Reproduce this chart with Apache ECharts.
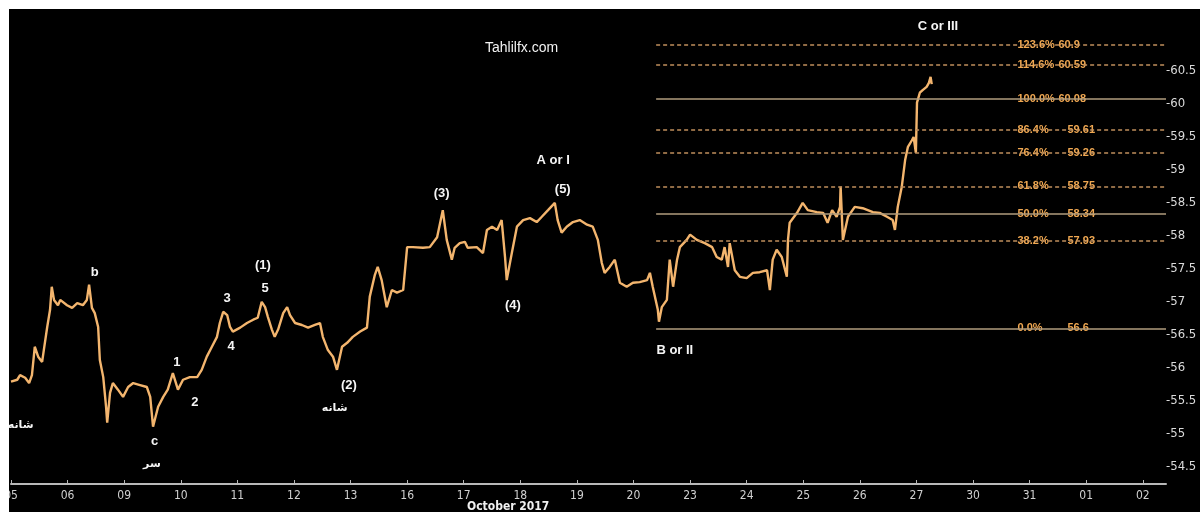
<!DOCTYPE html>
<html>
<head>
<meta charset="utf-8">
<script src="https://cdn.jsdelivr.net/npm/echarts@6/dist/echarts.min.js"></script>
<style>
html,body{margin:0;padding:0;background:#fff;width:1200px;height:512px;overflow:hidden;}
#c{position:absolute;left:9px;top:9px;width:1191px;height:503px;background:#000;}
</style>
</head>
<body>
<div id="c"></div>
<script>
// ---- data ----
const dayLabels = ['05','06','09','10','11','12','13','16','17','18','19','20','23','24','25','26','27','30','31','01','02'];
const dayIndex = [0,1,2,3,4,5,6,7,8,9,10,11,12,13,14,15,16,17,18,19,20];
const yTicks = [54.5,55,55.5,56,56.5,57,57.5,58,58.5,59,59.5,60,60.5];

// time in trading days from 05 Oct (fractional), price
const priceT = [0.00,0.11,0.16,0.25,0.32,0.37,0.42,0.48,0.55,0.58,0.64,0.69,0.72,0.76,0.83,0.87,0.99,1.08,1.17,1.27,1.34,1.38,1.43,1.48,1.54,1.57,1.63,1.68,1.70,1.75,1.80,1.89,1.98,2.07,2.16,2.28,2.40,2.46,2.51,2.54,2.60,2.69,2.77,2.86,2.95,3.04,3.16,3.29,3.37,3.46,3.55,3.64,3.69,3.75,3.82,3.87,3.92,4.05,4.17,4.28,4.36,4.43,4.49,4.54,4.61,4.66,4.72,4.81,4.88,4.93,5.02,5.14,5.25,5.37,5.46,5.51,5.60,5.69,5.76,5.85,5.94,6.04,6.17,6.29,6.34,6.43,6.48,6.55,6.64,6.73,6.82,6.93,7.00,7.10,7.28,7.40,7.53,7.63,7.70,7.79,7.84,7.93,8.02,8.07,8.23,8.34,8.41,8.50,8.59,8.67,8.73,8.76,8.85,8.94,9.05,9.17,9.29,9.38,9.49,9.61,9.66,9.73,9.82,9.93,10.05,10.18,10.28,10.37,10.44,10.49,10.58,10.67,10.76,10.88,10.99,11.11,11.24,11.29,11.34,11.43,11.45,11.50,11.59,11.64,11.70,11.77,11.82,11.94,12.00,12.12,12.26,12.39,12.47,12.56,12.61,12.67,12.70,12.79,12.88,13.00,13.11,13.23,13.36,13.41,13.46,13.53,13.62,13.71,13.73,13.76,13.89,13.99,14.08,14.24,14.35,14.43,14.51,14.59,14.65,14.66,14.70,14.79,14.91,15.05,15.23,15.35,15.48,15.58,15.62,15.67,15.74,15.80,15.85,15.92,15.95,15.99,16.01,16.06,16.11,16.18,16.22,16.25,16.27];
const priceV = [55.79,55.82,55.89,55.85,55.77,55.89,56.32,56.17,56.09,56.27,56.62,56.88,57.23,57.03,56.95,57.03,56.95,56.91,56.98,56.95,57.03,57.26,56.91,56.83,56.62,56.12,55.86,55.41,55.17,55.62,55.77,55.67,55.56,55.71,55.77,55.74,55.71,55.56,55.11,55.21,55.41,55.56,55.67,55.92,55.67,55.82,55.86,55.86,55.97,56.17,56.32,56.47,56.68,56.85,56.80,56.62,56.55,56.61,56.68,56.73,56.76,57.00,56.92,56.77,56.58,56.47,56.58,56.83,56.92,56.80,56.68,56.65,56.61,56.65,56.68,56.47,56.27,56.17,55.97,56.32,56.38,56.47,56.55,56.61,57.08,57.41,57.53,57.33,56.92,57.18,57.14,57.18,57.83,57.83,57.82,57.83,57.98,58.39,57.94,57.64,57.82,57.89,57.91,57.82,57.83,57.74,58.09,58.14,58.09,58.24,57.68,57.33,57.74,58.14,58.24,58.27,58.21,58.29,58.39,58.50,58.24,58.05,58.14,58.21,58.24,58.17,58.14,57.94,57.59,57.44,57.53,57.64,57.29,57.23,57.29,57.30,57.33,57.44,57.23,56.88,56.70,56.92,57.03,57.64,57.23,57.64,57.83,57.94,58.02,57.94,57.89,57.83,57.68,57.64,57.83,57.53,57.89,57.48,57.38,57.36,57.44,57.45,57.48,57.18,57.64,57.79,57.68,57.38,57.94,58.20,58.35,58.50,58.39,58.36,58.35,58.20,58.39,58.29,58.44,58.75,57.94,58.29,58.44,58.42,58.36,58.35,58.29,58.24,58.09,58.44,58.74,59.15,59.35,59.45,59.50,59.26,60.02,60.17,60.21,60.26,60.32,60.41,60.30];

// Fibonacci levels (drawn from the B or II low)
const fibPct = ['0.0%','38.2%','50.0%','61.8%','76.4%','86.4%','100.0%','114.6%','123.6%'];
const fibVal = [56.6,57.93,58.34,58.75,59.26,59.61,60.08,60.59,60.9];
const fibSolid = [true,false,true,false,false,false,true,false,false];
const fibStartT = 11.40;
const fibLabelT = 17.75;

// wave annotations
const waveText = ['b','c','سر','شانه','1','2','3','4','(1)','5','(2)','شانه','(3)','A or I','(5)','(4)','B or II','C or III'];
const waveT = [1.48,2.54,2.49,0.17,2.93,3.25,3.82,3.89,4.45,4.49,5.97,5.72,7.61,9.58,9.75,8.87,11.73,16.38];
const waveV = [57.45,54.89,54.55,55.14,56.08,55.47,57.05,56.33,57.56,57.20,55.73,55.39,58.65,59.14,58.71,56.94,56.27,61.18];

const xMax = 20.41, yMin = 54.24, yMax = 61.424;

// ---- chart ----
const chart = echarts.init(document.getElementById('c'), null, {renderer:'canvas'});
const condensed = "'DejaVu Sans Condensed','Liberation Sans Narrow','DejaVu Sans',sans-serif";
const sans = "'Liberation Sans',Arial,'DejaVu Sans',sans-serif";
const fibColor = '#f0a852';
const isArabic = s => /[\u0600-\u06FF]/.test(s);

const fibLineData = fibVal.map((v,i)=>[
  {coord:[fibStartT, v], lineStyle:{type: fibSolid[i] ? 'solid' : [4,3], color: fibSolid[i] ? '#b09c7e' : '#c08f5c', width: 1.5}},
  {coord:[xMax, v]}
]);

chart.setOption({
  backgroundColor:'#000',
  animation:false,
  title:[
    {text:'Tahlilfx.com', left:471, top:27, textStyle:{color:'#f2f2f2', fontSize:14, fontWeight:'normal', fontFamily:sans}},
    {text:'October 2017', left:453, top:487, textStyle:{color:'#f0f0f0', fontSize:12, fontWeight:'bold', fontFamily:condensed}}
  ],
  grid:{left:2, right:34, top:1, bottom:28, containLabel:false, outerBoundsMode:'none'},
  xAxis:{
    type:'value', min:0, max:xMax,
    axisLine:{show:true, lineStyle:{color:'#b8b8b8', width:2}},
    axisTick:{show:true, inside:true, length:4, customValues:dayIndex, lineStyle:{color:'#b8b8b8'}},
    axisLabel:{customValues:dayIndex, formatter:v=>dayLabels[Math.round(v)], color:'#d0d0d0', fontSize:12, margin:6, fontFamily:condensed},
    splitLine:{show:false}
  },
  yAxis:{
    type:'value', position:'right', min:yMin, max:yMax,
    axisLine:{show:false},
    axisTick:{show:false},
    axisLabel:{customValues:yTicks, formatter:v=>'-' + v, color:'#dadada', fontSize:13, margin:0, fontFamily:condensed},
    splitLine:{show:false}
  },
  series:[
    {
      type:'line', name:'fib', data:[], silent:true,
      markLine:{symbol:'none', silent:true, label:{show:false}, data:fibLineData}
    },
    {
      type:'line', name:'price',
      data: priceT.map((t,i)=>[t, priceV[i]]),
      showSymbol:false, clip:true,
      lineStyle:{color:'#f3b56e', width:2.4},
      z:3
    },
    {
      type:'scatter', name:'fibLabels', symbolSize:0, silent:true, z:4,
      itemStyle:{opacity:1},
      data: fibVal.map((v,i)=>({value:[fibLabelT, v], name: fibPct[i]})),
      label:{
        show:true, position:'right', distance:0,
        backgroundColor:'#000', padding:[1,2],
        formatter:p=>{
          const pct = p.name;
          const key = pct.length >= 6 ? 'a' : 'b';
          return '{' + key + '|' + pct + '}{v|' + p.value[1] + '}';
        },
        rich:{
          a:{width:41, color:fibColor, fontSize:11, fontWeight:'bold', fontFamily:sans},
          b:{width:50, color:fibColor, fontSize:11, fontWeight:'bold', fontFamily:sans},
          v:{color:fibColor, fontSize:11, fontWeight:'bold', fontFamily:sans}
        }
      }
    },
    {
      type:'scatter', name:'waves', symbolSize:0, silent:true, z:5,
      itemStyle:{opacity:1},
      data: waveT.map((t,i)=>({
        value:[t, waveV[i]], name: waveText[i],
        label: isArabic(waveText[i]) ? {fontSize:11} : undefined
      })),
      label:{
        show:true, position:'inside',
        formatter:p=>p.name,
        color:'#f5f5f5', fontSize:13, fontWeight:'bold', fontFamily:sans
      }
    }
  ]
});
</script>
</body>
</html>
